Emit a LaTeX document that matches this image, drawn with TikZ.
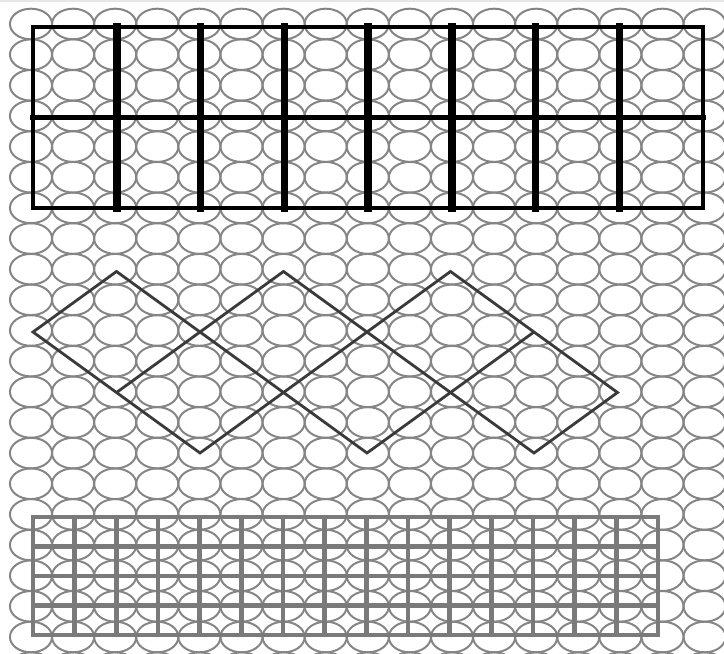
\documentclass[tikz,border=0pt]{standalone}
\definecolor{ellgray}{HTML}{858585}
\definecolor{diagray}{HTML}{3A3A3A}
\definecolor{gridgray}{HTML}{7A7A7A}
\definecolor{edgegray}{HTML}{E6E6E6}
\begin{document}
\begin{tikzpicture}[x=0.03cm,y=-0.03cm,
  ell/.style={draw=ellgray,line width=1.7pt},
  thickgrid/.style={draw=black,line cap=rect},
  diam/.style={draw=diagray,line width=2.4pt,line join=miter},
  fine/.style={draw=gridgray,line cap=rect}]
\useasboundingbox (0,0) rectangle (724,654);
% background ellipse lattice
\begin{scope}
  \clip (0,0) rectangle (724,654);
  \foreach \i in {0,...,16}
    \foreach \j in {0,...,21}
      \draw[ell] ({31+42.1*\i},{24+30.65*\j}) ellipse [x radius=21.05, y radius=15.3];
\end{scope}
\fill[edgegray] (0,0) rectangle (724,2.5);
% top grid
\foreach \k in {1,...,7}
  \draw[thickgrid,line width=6.4pt] ({33+83.75*\k},27) -- ({33+83.75*\k},208);
\draw[thickgrid,line width=4.8pt] (33,117.5) -- (703,117.5);
\draw[thickgrid,line width=3.8pt] (33,27) rectangle (703,208);
% diamonds: lattice point (a,b) = L + a*u + b*v
\foreach \a/\b/\n in {0/0/p00,0/1/p01,1/0/p10,1/2/p12,2/0/p20,2/3/p23,3/1/p31,3/3/p33,4/2/p42,4/3/p43}
  \coordinate (\n) at ({33+83.5*(\a+\b)},{332+60.5*(\a-\b)});
\draw[diam] (p10) -- (p12) -- (p42) -- (p43) -- (p23) -- (p20) -- (p00) -- (p01) -- (p31) -- (p33);
% bottom fine grid
\foreach \k in {1,...,14}
  \draw[fine,line width=4pt] ({33+41.667*\k},517) -- ({33+41.667*\k},635);
\foreach \k in {1,2,3}
  \draw[fine,line width=3.6pt] (33,{517+29.5*\k}) -- (658,{517+29.5*\k});
\draw[fine,line width=3.8pt] (33,517) rectangle (658,635);
\end{tikzpicture}
\end{document}
